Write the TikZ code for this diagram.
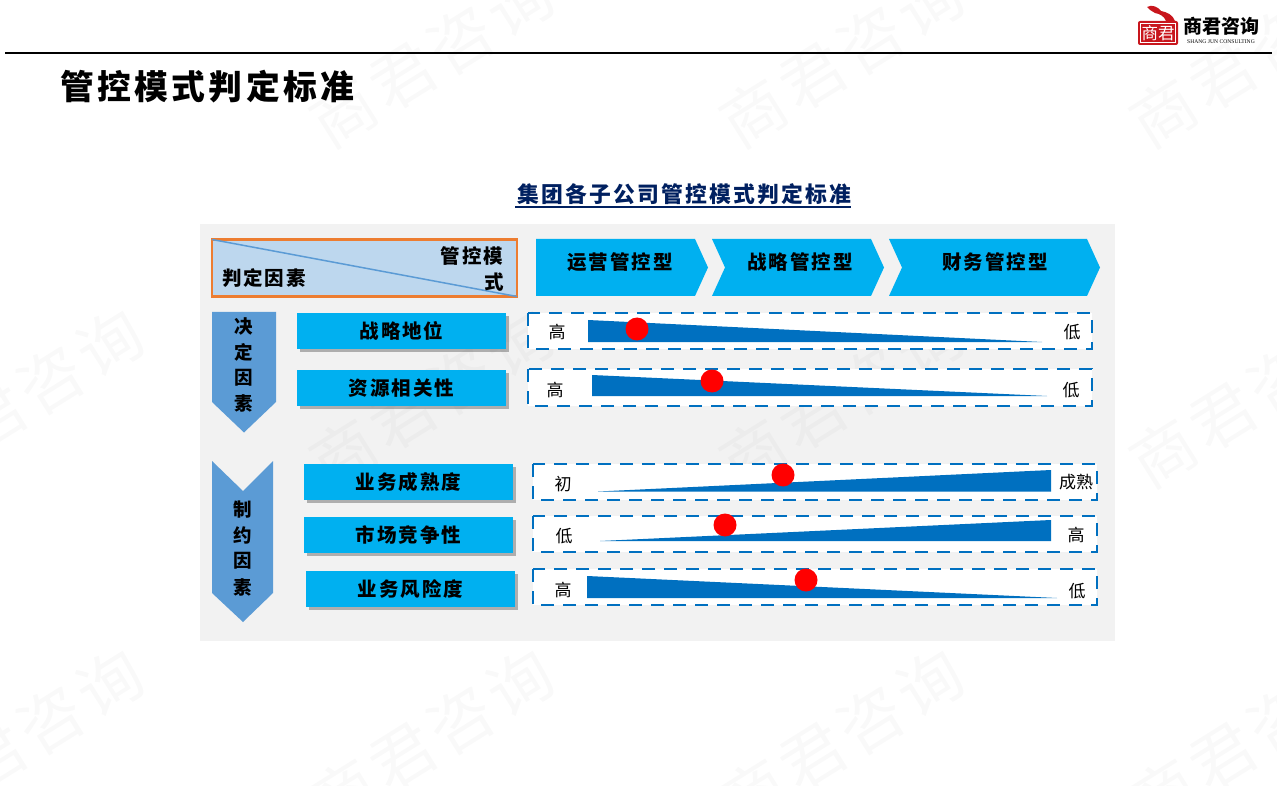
\documentclass[tikz,border=0pt]{standalone}
\usepackage{fontspec}
\setmainfont{Liberation Serif}
\newfontfamily\cjk{Noto Sans CJK SC}
\newfontfamily\cjkl[LetterSpace=10]{Noto Sans CJK SC}
\newfontfamily\cjkw[LetterSpace=8]{Noto Sans CJK SC}
\newcommand{\fs}[1]{\fontsize{#1}{#1}\selectfont}
\usetikzlibrary{shadows}
\definecolor{cyanb}{HTML}{00B0F0}
\definecolor{blued}{HTML}{0070C0}
\definecolor{bluem}{HTML}{5B9BD5}
\definecolor{bluel}{HTML}{BDD7EE}
\definecolor{orangeb}{HTML}{ED7D31}
\definecolor{panelg}{HTML}{F2F2F2}
\definecolor{navyt}{HTML}{002060}
\definecolor{sealred}{HTML}{C8161D}
\tikzset{
  wmark/.style={inner sep=0pt,rotate=32,text=black,text opacity=.022,font=\cjkw\fs{64}},
  factorbox/.style={fill=cyanb,draw=none,inner sep=0pt,drop shadow={shadow xshift=3pt,shadow yshift=-3pt,fill=black,opacity=.28}},
  factortext/.style={inner sep=0pt,font=\cjkl\bfseries\fs{19.5},text=black},
  headtext/.style={inner sep=0pt,font=\cjkl\bfseries\fs{19.5},text=black},
  sidetext/.style={inner sep=0pt,font=\cjk\bfseries\fs{18.5},text=black},
  scalebox/.style={draw=blued,line width=2.2pt,fill=white,dash pattern=on 13pt off 9pt},
  wedge/.style={fill=blued,draw=none},
  marker/.style={circle,fill=red,draw=none,minimum size=23pt,inner sep=0pt},
  endlabel/.style={inner sep=0pt,font=\cjk\fs{17},text=black},
  arrowshape/.style={fill=bluem,draw=none},
  chevshape/.style={fill=cyanb,draw=none}
}
\begin{document}
\begin{tikzpicture}[x=1pt,y=-1pt]
\useasboundingbox (0,0) rectangle (1277,786);
\fill[white] (0,0) rectangle (1277,786);
% panel
\fill[panelg] (200,224) rectangle (1115,641);
% watermarks
\foreach \cx/\cy/\wn in {842/58/a,1252/58/b,432/58/c,22/398/d,432/398/e,842/398/f,1252/398/g,22/738/h,432/738/i,842/738/j,1252/738/k}{
  \node[wmark] (wm\wn) at (\cx,\cy) {商君咨询};
}
% header rule and title
\coordinate (ruleL) at (5,53.5);
\coordinate (ruleR) at (1272,53.5);
\draw[black,line width=2pt] (ruleL) -- (ruleR);
\node[inner sep=0pt,anchor=west,font=\cjkl\bfseries\fs{33.8}] (title) at (60,87) {管控模式判定标准};
% logo
\fill[sealred,rounded corners=2pt] (1138,21) rectangle (1178,45);
\draw[white,line width=.7pt] (1140.5,23.5) rectangle (1175.5,42.5);
\fill[sealred] (1147,7) .. controls (1152,4) and (1158,7) .. (1161,11) .. controls (1167,12) and (1173,15) .. (1175,21) -- (1166,21) .. controls (1164,16) and (1160,14) .. (1155,13) .. controls (1152,11) and (1149,10) .. (1147,7) -- cycle;
\node[inner sep=0pt,text=white,font=\cjk\fs{16.5}] (seal) at (1158,33.5) {商君};
\node[inner sep=0pt,anchor=west,font=\cjk\bfseries\fs{19}] (brand) at (1183,26) {商君咨询};
\node[inner sep=0pt,anchor=west,font=\fs{5.6}] (brandsub) at (1187,41.5) {SHANG JUN CONSULTING};
% subtitle
\node[inner sep=0pt,font=\cjkl\bfseries\fs{21.8},text=navyt] (sub) at (684.5,194) {集团各子公司管控模式判定标准};
\coordinate (subL) at (515,207);
\coordinate (subR) at (851,207);
\draw[navyt,line width=1.2pt] (subL) -- (subR);
% corner box
\node[draw=orangeb,fill=bluel,line width=2.2pt,outer sep=0pt,minimum width=305pt,minimum height=57pt,inner sep=0pt,anchor=north west] (corner) at (212,239.5) {};
\draw[bluem,line width=1.5pt] (corner.north west) -- (corner.south east);
\node[headtext] (c1) at (264,278) {判定因素};
\node[headtext] (c2) at (472,256) {管控模};
\node[headtext,font=\cjk\bfseries\fs{19.5}] (c3) at (494,282) {式};
% chevrons
\fill[chevshape] (536,239) -- (695,239) -- (708,267.5) -- (695,296) -- (536,296) -- cycle;
\fill[chevshape] (712,239) -- (871,239) -- (884,267.5) -- (871,296) -- (712,296) -- (725,267.5) -- cycle;
\fill[chevshape] (889,239) -- (1087,239) -- (1100,267.5) -- (1087,296) -- (889,296) -- (902,267.5) -- cycle;
\node[headtext] (m1) at (620,262) {运营管控型};
\node[headtext] (m2) at (800,262) {战略管控型};
\node[headtext] (m3) at (995,262) {财务管控型};
% side arrows
\fill[arrowshape] (212,312) -- (276,312) -- (276,402) -- (244,432.5) -- (212,402) -- cycle;
\foreach \t/\yy/\n in {决/326/a,定/352/b,因/378/c,素/403/d}{
  \node[sidetext] (s\n) at (243.5,\yy) {\t};
}
\fill[arrowshape] (212,461) -- (243,491) -- (273,461) -- (273,593) -- (243,622) -- (212,593) -- cycle;
\foreach \t/\yy/\n in {制/510/e,约/535/f,因/561/g,素/587/h}{
  \node[sidetext] (s\n) at (243,\yy) {\t};
}
% factor boxes
\foreach \xa/\xb/\ya/\yb/\t/\n in {
  297/506/313/349/战略地位/a,
  297/506/370/406/资源相关性/b,
  304/513/464/500/业务成熟度/c,
  304/513/517/553/市场竞争性/d,
  306/515/571/607/业务风险度/e}{
  \path[factorbox] (\xa,\ya) rectangle (\xb,\yb);
  \path (\xa,\ya) -- (\xb,\yb) node[midway,factortext] (f\n) {\t};
}
% scale boxes
\draw[scalebox] (528,313) rectangle (1092,349);
\draw[scalebox] (528,369) rectangle (1092,406);
\draw[scalebox] (533,464) rectangle (1097,500);
\draw[scalebox] (533,516) rectangle (1097,552);
\draw[scalebox] (533,569) rectangle (1097,605);
% wedges
\fill[wedge] (588,320) -- (1042,342) -- (588,342) -- cycle;
\fill[wedge] (592,375) -- (1047,396) -- (592,396) -- cycle;
\fill[wedge] (598,491.5) -- (1051,470) -- (1051,491.5) -- cycle;
\fill[wedge] (600,541) -- (1051,520) -- (1051,541) -- cycle;
\fill[wedge] (587,576) -- (1057,598) -- (587,598) -- cycle;
% markers
\node[marker] (p1) at (637,329) {};
\node[marker] (p2) at (712,381) {};
\node[marker] (p3) at (783,475) {};
\node[marker] (p4) at (725,525) {};
\node[marker] (p5) at (806,580) {};
% end labels
\node[endlabel] (l1) at (557,332) {高};
\node[endlabel] (r1) at (1072,332) {低};
\node[endlabel] (l2) at (555,390) {高};
\node[endlabel] (r2) at (1071,390) {低};
\node[endlabel] (l3) at (563,484) {初};
\node[endlabel] (r3) at (1076,482) {成熟};
\node[endlabel] (l4) at (564,536) {低};
\node[endlabel] (r4) at (1076,535) {高};
\node[endlabel] (l5) at (563,590) {高};
\node[endlabel] (r5) at (1077,591) {低};
\end{tikzpicture}
\end{document}
